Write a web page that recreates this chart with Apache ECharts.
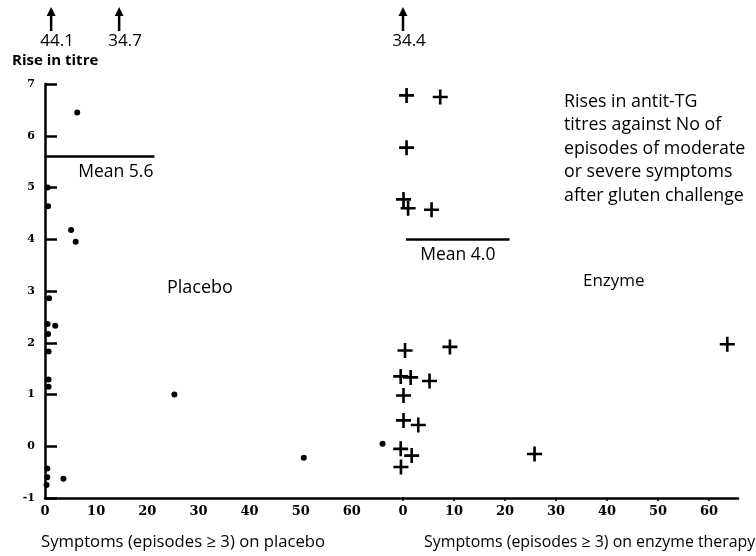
<!DOCTYPE html>
<html><head><meta charset="utf-8">
<script src="https://cdn.jsdelivr.net/npm/echarts@6/dist/echarts.min.js"></script>
<style>html,body{margin:0;padding:0;background:#fff}#c{width:756px;height:556px}</style>
</head><body><div id="c"></div>
<script>
// Placebo: [symptom episodes, rise in titre]
const placeboPoints = [[6.3,6.45],[0.5,5.0],[0.6,4.64],[5.1,4.18],[6.0,3.95],[0.8,2.86],[0.5,2.36],[2.0,2.33],[0.6,2.17],[0.7,1.83],[0.7,1.29],[0.7,1.15],[25.3,1.0],[0.45,-0.43],[0.45,-0.6],[3.6,-0.63],[0.3,-0.75],[50.6,-0.22],[66.0,0.05]];
// Enzyme: [symptom episodes, rise in titre]
const enzymePoints = [[0.7,6.78],[7.3,6.75],[0.7,5.77],[0.1,4.77],[1.0,4.6],[5.6,4.57],[0.4,1.85],[9.2,1.92],[63.6,1.97],[-0.45,1.35],[1.5,1.33],[5.2,1.26],[0.1,0.98],[0.1,0.5],[3.0,0.41],[-0.45,-0.05],[1.7,-0.18],[25.8,-0.15],[-0.4,-0.4]];
// Off-scale values shown as arrows: [symptom episodes, rise in titre]
const placeboOutliers = [[1.2,44.1],[14.5,34.7]];
const enzymeOutliers = [[0,34.4]];
const placeboMean = 5.6;
const enzymeMean = 4.0;
const placeboMeanSpan = [0, 21.4];
const enzymeMeanSpan = [0.6, 20.9];
const yTicks = [-1,0,1,2,3,4,5,6,7];
const xTicks = [0,10,20,30,40,50,60];

const FONT = '"Open Sans"';
const chart = echarts.init(document.getElementById('c'), null, {renderer:'canvas'});
const plus = 'path://M6.6,0H9.4V6.6H16V9.4H9.4V16H6.6V9.4H0V6.6H6.6Z';

function outlierRender(params, api){
  const p = api.coord([api.value(0), yTicks[yTicks.length-1]]);
  const x = p[0];
  return {type:'group', children:[
    {type:'line', shape:{x1:x,y1:14,x2:x,y2:31}, style:{stroke:'#000',lineWidth:2.5}},
    {type:'polygon', shape:{points:[[x,7],[x-4.5,16],[x+4.5,16]]}, style:{fill:'#000'}},
    {type:'text', x:x+6, y:41, style:{text:String(api.value(1)), textAlign:'center', textVerticalAlign:'middle', font:'17px '+FONT, fill:'#000'}}
  ]};
}

const yAxisBase = {
  type:'value', min:yTicks[0], max:yTicks[yTicks.length-1], interval:1,
  splitLine:{show:false}
};
const xLabel = {customValues:xTicks, fontSize:13, fontWeight:'bold', color:'#000', fontFamily:'DejaVu Serif', margin:7};

chart.setOption({
  animation:false,
  grid:[
    {left:45, top:84, width:358, height:414},
    {left:403, top:84, width:335, height:414}
  ],
  xAxis:[
    {type:'value', gridIndex:0, min:0, max:70, interval:10,
     axisLine:{onZero:false, lineStyle:{color:'#000', width:2.5}}, axisTick:{show:false},
     axisLabel:xLabel, splitLine:{show:false}},
    {type:'value', gridIndex:1, min:0, max:65.7, interval:10,
     axisLine:{onZero:false, lineStyle:{color:'#000', width:2.5}},
     axisTick:{show:true, customValues:xTicks, length:3, lineStyle:{color:'#000', width:1.5}},
     axisLabel:xLabel, splitLine:{show:false}}
  ],
  yAxis:[
    Object.assign({gridIndex:0,
      axisLine:{show:true, onZero:false, lineStyle:{color:'#000', width:2.5}},
      axisTick:{show:true, inside:true, length:12, lineStyle:{color:'#000', width:2.5}},
      axisLabel:{customValues:yTicks, fontSize:11, fontWeight:'bold', color:'#000', fontFamily:'DejaVu Serif', margin:10}
    }, yAxisBase),
    Object.assign({gridIndex:1, show:false}, yAxisBase)
  ],
  series:[
    {type:'scatter', xAxisIndex:0, yAxisIndex:0, data:placeboPoints, symbol:'circle', symbolSize:6,
     itemStyle:{color:'#000', opacity:1}, clip:false,
     markLine:{symbol:'none', silent:true, lineStyle:{color:'#000', width:2.5, type:'solid'},
       label:{show:true, position:'insideEndBottom', distance:[1,7], formatter:'Mean '+placeboMean.toFixed(1), fontSize:17.5, color:'#000', fontFamily:FONT},
       data:[[{coord:[placeboMeanSpan[0],placeboMean]},{coord:[placeboMeanSpan[1],placeboMean]}]]}},
    {type:'scatter', xAxisIndex:1, yAxisIndex:1, data:enzymePoints, symbol:plus, symbolSize:15,
     itemStyle:{color:'#000', opacity:1}, clip:false,
     markLine:{symbol:'none', silent:true, lineStyle:{color:'#000', width:2.5, type:'solid'},
       label:{show:true, position:'insideMiddleBottom', distance:[1,7], formatter:'Mean '+enzymeMean.toFixed(1), fontSize:17.5, color:'#000', fontFamily:FONT},
       data:[[{coord:[enzymeMeanSpan[0],enzymeMean]},{coord:[enzymeMeanSpan[1],enzymeMean]}]]}},
    {type:'custom', xAxisIndex:0, yAxisIndex:0, data:placeboOutliers, renderItem:outlierRender, clip:false, silent:true},
    {type:'custom', xAxisIndex:1, yAxisIndex:1, data:enzymeOutliers, renderItem:outlierRender, clip:false, silent:true}
  ],
  graphic:[
    {type:'text', left:12, top:53, style:{text:'Rise in titre', font:'bold 15px '+FONT, fill:'#000'}},
    {type:'text', left:167, top:279, style:{text:'Placebo', font:'18px '+FONT, fill:'#000'}},
    {type:'text', left:583, top:273, style:{text:'Enzyme', font:'17px '+FONT, fill:'#000'}},
    {type:'text', left:564, top:90, style:{text:'Rises in antit-TG\ntitres against No of\nepisodes of moderate\nor severe symptoms\nafter gluten challenge', font:'17.8px '+FONT, lineHeight:23.5, fill:'#000'}},
    {type:'text', left:41, top:534, style:{text:'Symptoms (episodes \u2265 3) on placebo', font:'16.7px '+FONT, fill:'#000'}},
    {type:'text', left:424, top:534, style:{text:'Symptoms (episodes \u2265 3) on enzyme therapy', font:'15.9px '+FONT, fill:'#000'}}
  ]
});
</script></body></html>
